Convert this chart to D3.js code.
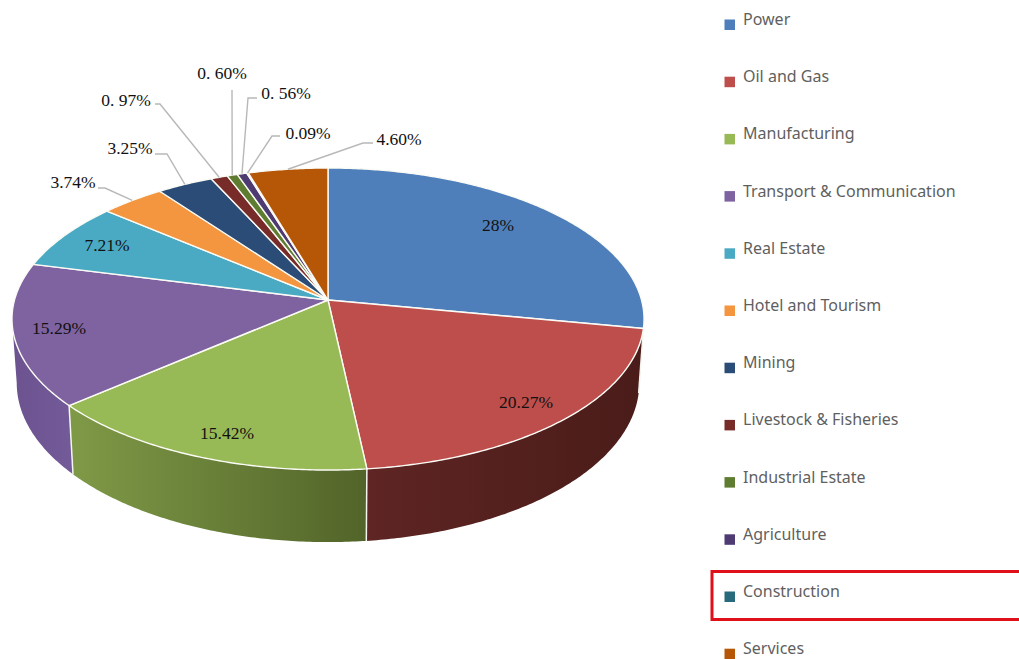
<!DOCTYPE html>
<html>
<head>
<meta charset="utf-8">
<script src="https://cdn.jsdelivr.net/npm/d3@7"></script>
<style>
  body { margin: 0; background: #fff; }
  svg { display: block; }
  .pct { font-family: "Liberation Serif", serif; font-size: 17.5px; fill: #111; }
  .legend-text { font-family: "Noto Sans", sans-serif; font-size: 16px; fill: #5f5f5f; }
</style>
</head>
<body>
<div id="chart"></div>
<script>
// values
const sectors = ["Power", "Oil and Gas", "Manufacturing", "Transport & Communication", "Real Estate",
  "Hotel and Tourism", "Mining", "Livestock & Fisheries", "Industrial Estate", "Agriculture", "Construction", "Services"];
const shares = [28, 20.27, 15.42, 15.29, 7.21, 3.74, 3.25, 0.97, 0.60, 0.56, 0.09, 4.60];
const shareLabels = ["28%", "20.27%", "15.42%", "15.29%", "7.21%", "3.74%", "3.25%", "0. 97%", "0. 60%", "0. 56%", "0.09%", "4.60%"];

const topColors = ["#4f7fbb", "#bd4e4b", "#98ba56", "#7f62a0", "#4aaac4", "#f3963f", "#2a4c76", "#772c2a", "#5f7d30", "#4d3b72", "#276a7c", "#b65708"];
// side wall gradient, left colour then right colour
const sideLeft = ["#2f4e73", "#5e2523", "#7f9a47", "#6c5390"];
const sideRight = ["#2f4e73", "#4a1c19", "#526429", "#735a98"];

// where the text sits, [x, y] of text centre, elbow of the leader if it has one
const labelLayout = [
  { at: [498, 225] }, { at: [526, 402] }, { at: [227, 433] }, { at: [59, 328] }, { at: [107, 245] },
  { at: [73, 182], from: [98, 188], elbow: [105, 188] },
  { at: [130, 148], from: [155, 154], elbow: [167, 154] },
  { at: [126, 100], from: [155, 104], elbow: [160, 104] },
  { at: [222, 73], from: [232, 90], elbow: [232, 91] },
  { at: [286, 93], from: [257, 98], elbow: [248, 98] },
  { at: [308, 133], from: [280, 136], elbow: [272, 136] },
  { at: [399, 139], from: [373, 143], elbow: [363, 143] }
];

const width = 1019, height = 659;
const legend = { markX: 724.5, markSize: 10.5, textX: 743, firstBase: 25, step: 57.2 };

const svg = d3.select("#chart")
  .append("svg")
  .attr("width", width)
  .attr("height", height)
  .attr("viewBox", [0, 0, width, height]);

// slices clockwise from 12 o'clock
const arcs = d3.pie().sort(null).value(d => d)(shares);

// the tilted disc: perspective projection of a circle, the apex sits above the ellipse centre
const cx = 328, cy = 300, a = 313.5, b = 148.6, k = 0.126, depth = 63, lowScale = 0.985;
const project = t => {
  const w = 1 + k * Math.cos(t);
  return [cx + a * Math.sin(t) / w, cy - b * Math.cos(t) / w];
};
// bottom rim is a little narrower than the top one
const projectLow = t => {
  const p = project(t);
  return [cx + (p[0] - cx) * lowScale, p[1] + depth / (1 + k * Math.cos(t))];
};
const samples = (t0, t1) => {
  const n = Math.max(2, Math.ceil((t1 - t0) / 0.01));
  return d3.range(n + 1).map(i => t0 + (t1 - t0) * i / n);
};
const line = d3.line();

// only the front half of the wall can be seen
const wallStart = Math.acos(-k), wallEnd = 2 * Math.PI - wallStart;

const defs = svg.append("defs");
sideLeft.forEach((c, i) => {
  const g = defs.append("linearGradient").attr("id", "side" + i);
  g.append("stop").attr("offset", 0).attr("stop-color", c);
  g.append("stop").attr("offset", 1).attr("stop-color", sideRight[i]);
});

// walls first
svg.append("g")
  .selectAll("path")
  .data(arcs.filter(d => d.endAngle > wallStart && d.startAngle < wallEnd))
  .join("path")
  .attr("d", d => {
    const ts = samples(Math.max(d.startAngle, wallStart), Math.min(d.endAngle, wallEnd));
    return line(ts.map(project).concat(ts.slice().reverse().map(projectLow))) + "Z";
  })
  .attr("fill", d => `url(#side${d.index})`);

// white seams between the walls
svg.append("g")
  .selectAll("path")
  .data(arcs.filter(d => d.startAngle > wallStart && d.startAngle < wallEnd))
  .join("path")
  .attr("d", d => line([project(d.startAngle), projectLow(d.startAngle)]))
  .attr("stroke", "#f4f4f0")
  .attr("stroke-width", 1.5)
  .attr("fill", "none");

// top face
svg.append("g")
  .selectAll("path")
  .data(arcs)
  .join("path")
  .attr("d", d => line([[cx, cy]].concat(samples(d.startAngle, d.endAngle).map(project))) + "Z")
  .attr("fill", (d, i) => topColors[i])
  .attr("stroke", "#fbfbf6")
  .attr("stroke-width", 1.4)
  .attr("stroke-linejoin", "round");

// leaders for the small slices
svg.append("g")
  .selectAll("path")
  .data(arcs.filter(d => labelLayout[d.index].from))
  .join("path")
  .attr("d", d => {
    const l = labelLayout[d.index];
    return line([l.from, l.elbow, project((d.startAngle + d.endAngle) / 2)]);
  })
  .attr("fill", "none")
  .attr("stroke", "#b8b8b8")
  .attr("stroke-width", 1.4);

svg.append("g")
  .selectAll("text")
  .data(shareLabels)
  .join("text")
  .attr("class", "pct")
  .attr("x", (d, i) => labelLayout[i].at[0])
  .attr("y", (d, i) => labelLayout[i].at[1])
  .attr("dy", "0.35em")
  .attr("text-anchor", "middle")
  .text(d => d);

// legend down the right side
const rows = svg.append("g")
  .selectAll("g")
  .data(sectors)
  .join("g")
  .attr("transform", (d, i) => `translate(0,${legend.firstBase + i * legend.step})`);

rows.append("rect")
  .attr("x", legend.markX)
  .attr("y", -5.5)
  .attr("width", legend.markSize)
  .attr("height", legend.markSize)
  .attr("fill", (d, i) => topColors[i]);

rows.append("text")
  .attr("class", "legend-text")
  .attr("x", legend.textX)
  .text(d => d);

// red box round Construction, it runs off the page
svg.append("rect")
  .attr("x", 712)
  .attr("y", 571.5)
  .attr("width", 320)
  .attr("height", 48)
  .attr("fill", "none")
  .attr("stroke", "#e0101a")
  .attr("stroke-width", 3);
</script>
</body>
</html>
